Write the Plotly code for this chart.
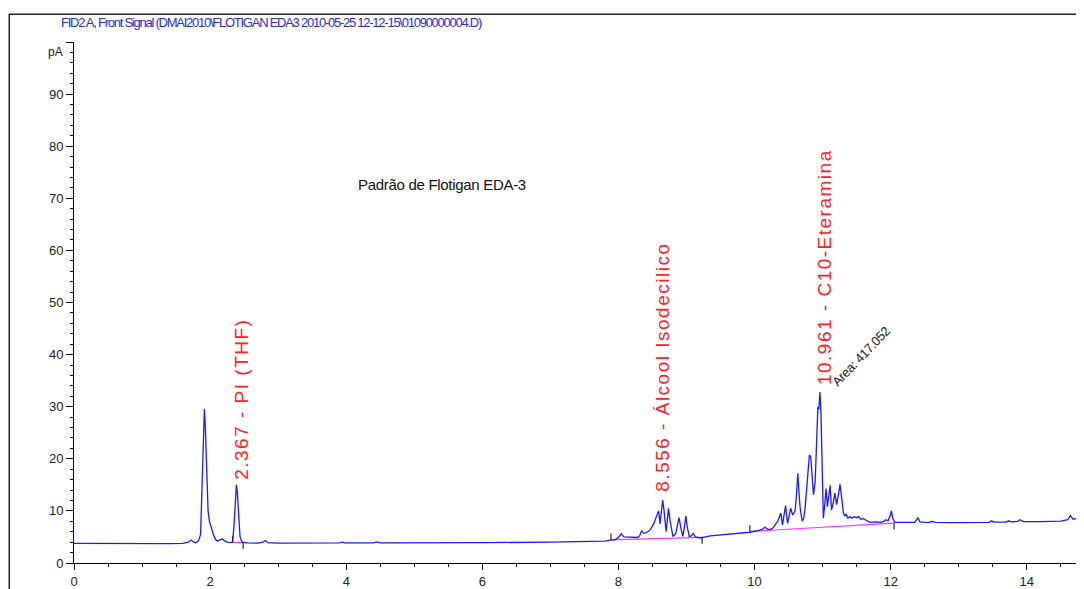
import plotly.graph_objects as go

# ---- data ----
time_min = [0.0, 0.5, 1.0, 1.4, 1.6, 1.68, 1.72, 1.76, 1.79, 1.83, 1.86, 1.88, 1.90, 1.916, 1.93, 1.95,
            1.97, 1.99, 2.02, 2.05, 2.08, 2.11, 2.15, 2.18, 2.21, 2.25, 2.30, 2.33, 2.35, 2.37, 2.386,
            2.40, 2.42, 2.44, 2.47, 2.55, 2.7, 2.78, 2.81, 2.85, 3.0, 3.5, 3.9, 3.94, 3.98, 4.4, 4.45,
            4.5, 5.0, 6.0, 7.0, 7.5, 7.8, 7.88, 7.95, 8.0, 8.04, 8.08, 8.12, 8.2, 8.28, 8.31, 8.34,
            8.37, 8.42, 8.47, 8.52, 8.56, 8.59, 8.61, 8.635, 8.65, 8.67, 8.70, 8.72, 8.735, 8.76, 8.80,
            8.84, 8.87, 8.89, 8.92, 8.945, 8.97, 8.99, 9.01, 9.04, 9.07, 9.10, 9.13, 9.20, 9.35, 9.5,
            9.61, 9.8, 9.93, 10.05, 10.12, 10.15, 10.19, 10.23, 10.27, 10.30, 10.34, 10.37, 10.385,
            10.41, 10.44, 10.455, 10.485, 10.51, 10.53, 10.56, 10.595, 10.615, 10.635, 10.655, 10.67,
            10.70, 10.72, 10.74, 10.77, 10.79, 10.805, 10.825, 10.845, 10.865, 10.89, 10.915, 10.93,
            10.945, 10.96, 10.975, 10.995, 11.01, 11.03, 11.05, 11.07, 11.09, 11.11, 11.13, 11.155,
            11.18, 11.205, 11.23, 11.255, 11.28, 11.305, 11.325, 11.345, 11.37, 11.40, 11.43, 11.46,
            11.50, 11.53, 11.56, 11.60, 11.65, 11.70, 11.78, 11.85, 11.90, 11.93, 11.96, 11.99, 12.01,
            12.03, 12.06, 12.15, 12.25, 12.35, 12.38, 12.40, 12.43, 12.55, 12.61, 12.66, 12.9, 13.2,
            13.45, 13.48, 13.52, 13.70, 13.73, 13.77, 13.87, 13.90, 13.95, 14.2, 14.5, 14.60, 14.64,
            14.68, 14.72, 14.78, 14.85]
signal_pA = [3.75, 3.7, 3.7, 3.7, 3.75, 4.0, 4.4, 4.0, 3.9, 4.3, 5.5, 14.0, 25.0, 29.6, 26.0, 15.0,
             10.0, 8.0, 6.5, 5.4, 4.5, 4.2, 4.5, 4.6, 4.3, 4.0, 3.9, 4.0, 7.0, 12.5, 15.0,
             13.5, 8.5, 5.0, 4.0, 3.85, 3.8, 4.0, 4.3, 3.9, 3.8, 3.8, 3.85, 4.0, 3.85, 3.85, 4.05,
             3.85, 3.85, 3.9, 4.0, 4.1, 4.2, 4.4, 4.5, 4.9, 5.6, 5.0, 5.0, 4.9, 4.9, 5.2, 6.2,
             5.7, 5.9, 6.4, 7.6, 9.0, 10.0, 7.5, 10.5, 12.1, 10.0, 6.0, 8.5, 10.5, 8.0, 5.1,
             5.6, 7.5, 8.7, 6.5, 5.1, 7.0, 9.0, 7.0, 5.1, 5.2, 5.7, 5.0, 4.8, 5.2, 5.4,
             5.5, 5.7, 5.9, 6.2, 6.5, 6.9, 6.5, 6.4, 6.7, 7.3, 8.0, 9.0, 9.6,
             7.3, 9.5, 11.0, 7.6, 9.5, 10.5, 9.2, 10.0, 13.0, 17.2, 13.0, 10.5,
             8.0, 8.5, 10.2, 15.0, 19.0, 20.7, 20.4, 16.0, 13.1, 15.6, 27.1, 30.0,
             29.5, 32.8, 29.0, 15.0, 8.6, 11.0, 14.3, 10.8, 13.0, 14.9, 10.2, 11.5,
             13.4, 11.2, 13.0, 15.1, 12.4, 9.6, 9.0, 9.4, 8.6, 8.9, 8.6, 8.9,
             8.7, 8.9, 8.4, 8.5, 8.1, 7.8, 7.9, 7.8, 8.0, 8.3, 8.1, 9.0, 10.0,
             8.6, 7.8, 7.8, 7.75, 7.8, 8.3, 8.7, 7.9, 7.75, 8.0, 7.8, 7.75, 7.75,
             7.8, 8.1, 7.85, 7.85, 8.1, 7.9, 8.0, 8.3, 7.95, 7.95, 8.05, 8.3, 9.1,
             8.4, 8.5, 8.1, 8.1]

# integration events (start / end of integrated regions)
int_start_t = [2.33, 7.89, 9.93]
int_start_v = [3.95, 4.45, 6.06]
int_end_t = [2.485, 9.23, 12.05]
int_end_v = [3.95, 4.9, 7.65]

# peak labels
label_text = ["2.367 - PI (THF)", "8.556 - Álcool Isodecilico", "10.961 - C10-Eteramina"]
label_t = [2.46, 8.634, 11.02]
label_v = [31.4, 37.6, 56.8]
area_text = "Area: 417.052"
area_t, area_v = 11.564, 39.6

title_text = "FID2 A, Front Signal (DMAI2010\\FLOTIGAN EDA3 2010-05-25 12-12-15\\01090000004.D)"
inner_title = "Padrão de Flotigan EDA-3"

x_ticks = [0, 2, 4, 6, 8, 10, 12, 14]
y_ticks = [0, 10, 20, 30, 40, 50, 60, 70, 80, 90, 100]
y_ticktext = ["0", "10", "20", "30", "40", "50", "60", "70", "80", "90", ""]

SANS = "Liberation Sans, Arial, sans-serif"

fig = go.Figure()

# integration baselines (magenta)
bx, by = [], []
for t0, v0, t1, v1 in zip(int_start_t, int_start_v, int_end_t, int_end_v):
    bx += [t0, t1, None]
    by += [v0, v1, None]
fig.add_trace(go.Scatter(x=bx, y=by, mode="lines", line=dict(color="#ff33ff", width=1.2),
                         hoverinfo="skip"))

# signal
fig.add_trace(go.Scatter(x=time_min, y=signal_pA, mode="lines",
                         line=dict(color="#1a1aff", width=1.3), hoverinfo="skip"))

# integration event tick marks (start: up, end: down)
tx, ty = [], []
for t0, v0 in zip(int_start_t, int_start_v):
    tx += [t0, t0, None]
    ty += [v0, v0 + 1.2, None]
for t1, v1 in zip(int_end_t, int_end_v):
    tx += [t1, t1, None]
    ty += [v1, v1 - 1.2, None]
fig.add_trace(go.Scatter(x=tx, y=ty, mode="lines", line=dict(color="#222222", width=1.2),
                         hoverinfo="skip"))

annotations = []
for txt, t, v in zip(label_text, label_t, label_v):
    annotations.append(dict(
        x=t, y=v, xref="x", yref="y", showarrow=False, textangle=-90,
        text='<span style="letter-spacing:1.5px">' + txt + "</span>",
        font=dict(family=SANS, size=19, color="#ff2020"),
        xanchor="center", yanchor="middle"))
annotations.append(dict(x=area_t, y=area_v, xref="x", yref="y", showarrow=False, textangle=-46,
                        text='<span style="letter-spacing:-0.4px">' + area_text + "</span>",
                        font=dict(family=SANS, size=13, color="#222222"),
                        xanchor="center", yanchor="middle"))
annotations.append(dict(x=5.41, y=72.7, xref="x", yref="y", showarrow=False,
                        text='<span style="letter-spacing:-0.3px">' + inner_title + "</span>",
                        font=dict(family=SANS, size=15, color="#111111"),
                        xanchor="center", yanchor="middle"))
annotations.append(dict(x=0.1955, y=1.0382, xref="paper", yref="paper", showarrow=False,
                        text='<span style="letter-spacing:-1.25px">' + title_text + "</span>",
                        font=dict(family=SANS, size=13, color="#2b2bd6"),
                        xanchor="center", yanchor="middle"))
annotations.append(dict(x=0, y=98, xref="paper", yref="y", showarrow=False, text="pA",
                        font=dict(family=SANS, size=12, color="#222222"),
                        xanchor="right", yanchor="middle", xshift=-9))
annotations.append(dict(x=1.0, y=-0.026, xref="paper", yref="paper", showarrow=False, text="min",
                        font=dict(family=SANS, size=13, color="#222222"),
                        xanchor="left", yanchor="top", xshift=-6))

fig.update_layout(
    width=1076, height=581,
    margin=dict(l=65.5, r=0, t=34, b=24),
    plot_bgcolor="white", paper_bgcolor="white",
    showlegend=False,
    annotations=annotations,
    shapes=[dict(type="rect", xref="paper", yref="paper", x0=-0.0641, x1=1.05, y0=-0.3, y1=1.0535,
                 line=dict(color="#222222", width=1.5), layer="above")],
    xaxis=dict(range=[0, 14.84], showline=True, linecolor="black", linewidth=1,
               ticks="outside", ticklen=6, tickcolor="black", tickvals=x_ticks,
               showgrid=False, zeroline=False,
               tickfont=dict(family=SANS, size=13, color="#222222"),
               minor=dict(dtick=0.5, tick0=0, ticks="outside", ticklen=3, tickcolor="black", showgrid=False)),
    yaxis=dict(range=[0, 100], showline=True, linecolor="black", linewidth=1,
               ticks="outside", ticklen=7, tickcolor="black", tickvals=y_ticks, ticktext=y_ticktext,
               showgrid=False, zeroline=False,
               tickfont=dict(family=SANS, size=13, color="#222222"),
               minor=dict(dtick=2, tick0=0, ticks="outside", ticklen=3, tickcolor="black", showgrid=False)),
)

fig.write_html("out.html")
